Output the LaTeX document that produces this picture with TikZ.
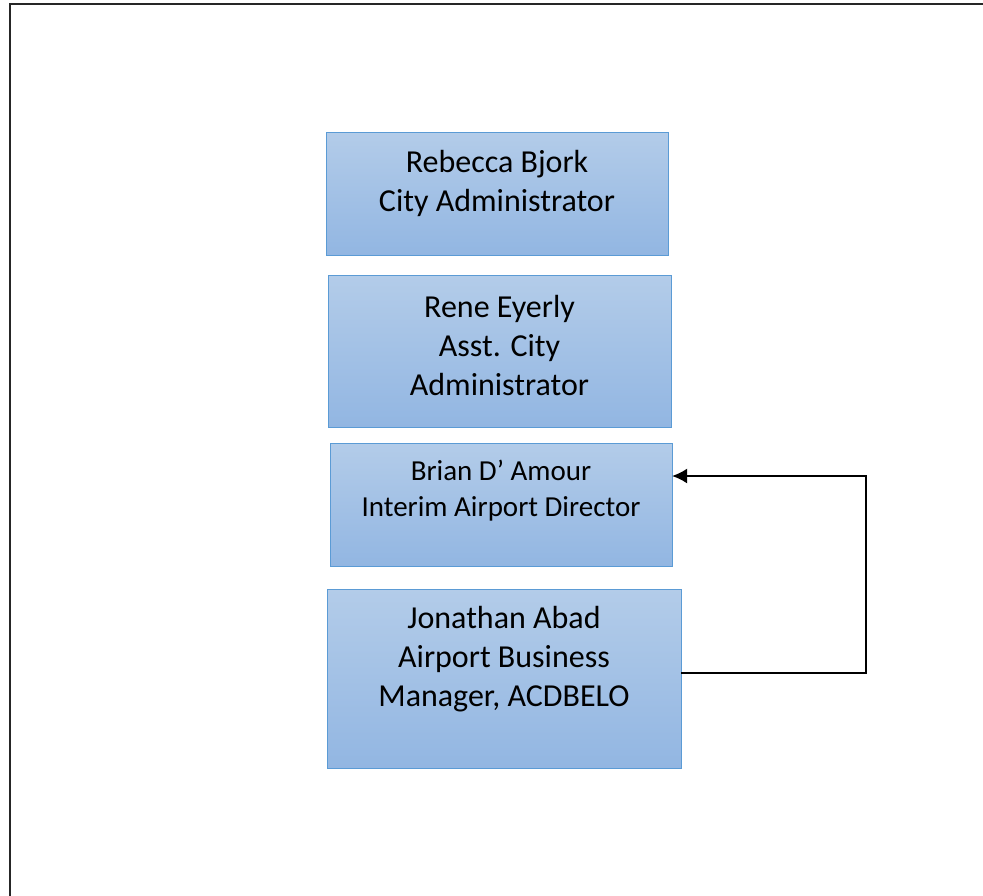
\documentclass[tikz,border=0pt]{standalone}
\usepackage{fontspec}
\setmainfont{Carlito}
\usetikzlibrary{arrows.meta}
\begin{document}
\begin{tikzpicture}[x=1pt,y=-1pt,
  orgbox/.style={draw=boxborder, line width=1pt, top color=boxtop, bottom color=boxbot},
  big/.style={align=center, font=\fontsize{32}{39}\selectfont, inner sep=0pt},
  small/.style={align=center, font=\fontsize{29}{36}\selectfont, inner sep=0pt},
  link/.style={line width=1.3pt, black}]
\definecolor{boxborder}{HTML}{5B9BD5}
\definecolor{boxtop}{HTML}{B3CCE9}
\definecolor{boxbot}{HTML}{92B6E2}
\useasboundingbox (0,0) rectangle (983,895);
\draw[line width=2pt, black!85] (10,900) -- (10,3.5) -- (990,3.5);
% boxes
\path[orgbox] (326,132) rectangle (668,255);
\node[inner sep=0pt, minimum width=342pt, minimum height=123pt] (b1) at (497,193.5) {};
\path[orgbox] (328,275) rectangle (671,427);
\node[inner sep=0pt, minimum width=343pt, minimum height=152pt] (b2) at (499.5,351) {};
\path[orgbox] (330,443) rectangle (672,566);
\node[inner sep=0pt, minimum width=342pt, minimum height=123pt] (b3) at (501,504.5) {};
\path[orgbox] (327,589) rectangle (681,768);
\node[inner sep=0pt, minimum width=354pt, minimum height=179pt] (b4) at (504,678.5) {};
% texts
\node[big] (t1) at (497,183) {Rebecca Bjork\\City Administrator};
\node[big] (t2) at (499.5,345) {Rene Eyerly\\Asst. City\\Administrator};
\node[small] (t3) at (501,491) {Brian D’ Amour\\Interim Airport Director};
\node[big] (t4) at (504,659) {Jonathan Abad\\Airport Business\\Manager, ACDBELO};
% connector
\coordinate (c1) at (866,673);
\coordinate (c2) at (866,476);
\draw[link, -{Latex[length=15pt,width=15pt]}] (b4.east |- c1) -- (c1) -- (c2) -- (b3.east |- c2);
\end{tikzpicture}
\end{document}
